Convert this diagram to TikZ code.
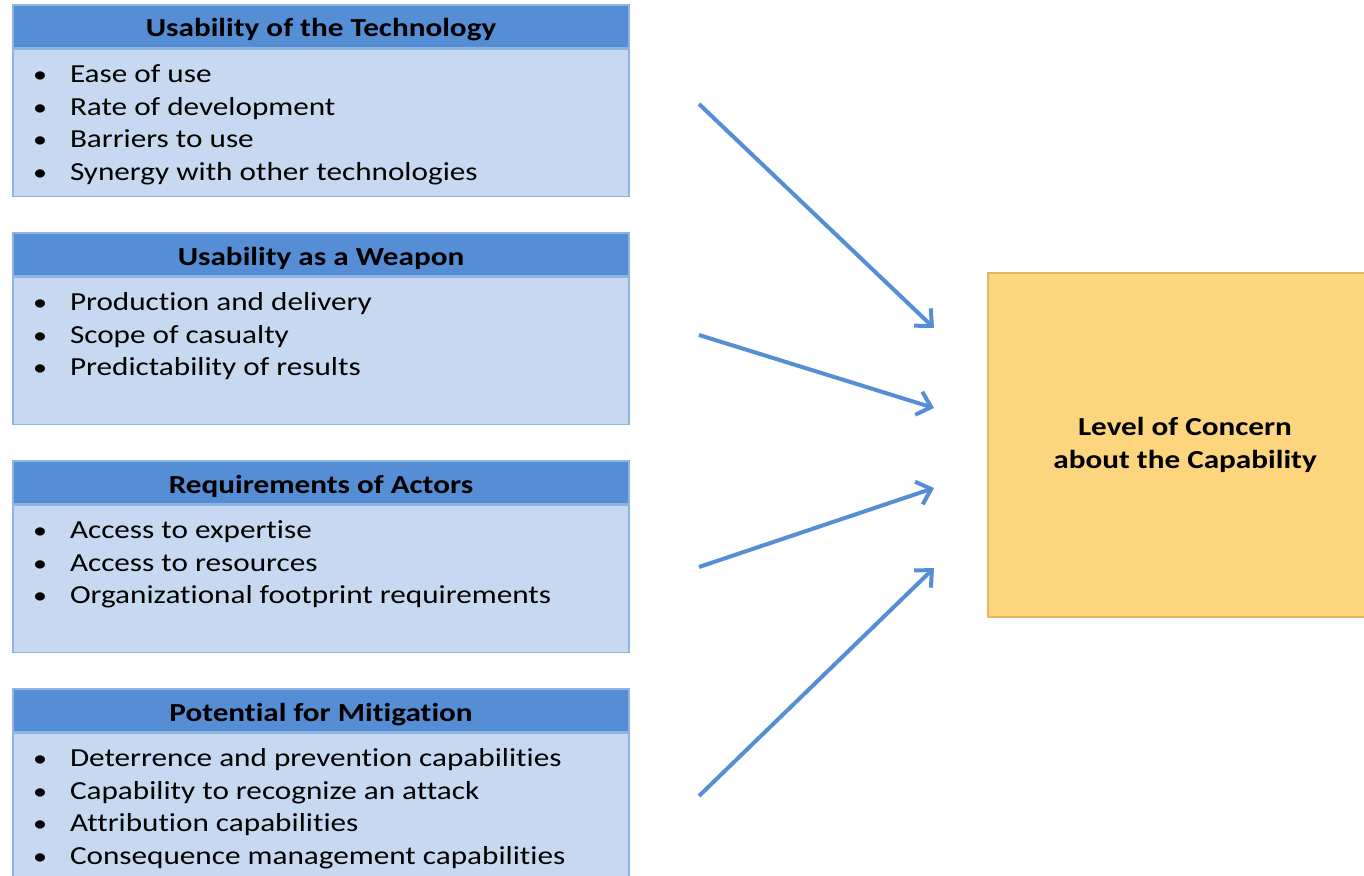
\documentclass[tikz,border=0pt]{standalone}
\usepackage{fontspec}
\setmainfont{Carlito}[FakeStretch=1.2,Ligatures=NoCommon]
\usetikzlibrary{arrows.meta,positioning}
\definecolor{hdrblue}{RGB}{85,142,213}
\definecolor{bodyblue}{RGB}{198,217,241}
\definecolor{edgeblue}{RGB}{142,180,227}
\definecolor{gold}{RGB}{252,213,126}
\definecolor{golddark}{RGB}{222,184,100}
\newcommand\itm[1]{\makebox[57pt][l]{\hspace*{20pt}\scalebox{0.9}{•}}#1\par}
\newcommand\bodytext[1]{\parbox[t][147pt][t]{616pt}{\fontsize{26}{32.7}\selectfont\rule{0pt}{33pt}\ignorespaces#1}}
\tikzset{
  hdr/.style={draw=edgeblue, line width=1.5pt, fill=hdrblue, minimum width=616pt, minimum height=43pt, inner sep=0pt, text height=21pt, text depth=0pt, font=\fontsize{26}{30}\selectfont\bfseries},
  bodybox/.style={draw=edgeblue, line width=1.5pt, fill=bodyblue, inner sep=0pt, anchor=north, below=0pt of #1},
  arr/.style={draw=hdrblue, line width=4pt, -{Straight Barb[length=13pt,width=24pt,line width=4pt]}},
}
\begin{document}
\begin{tikzpicture}[x=1pt,y=-1pt]
\useasboundingbox (0,0) rectangle (1364,875);
\fill[white] (0,0) rectangle (1364,875);
\node[hdr] (h1) at (321,26.5) {Usability of the Technology};
\node[bodybox=h1] (b1) {\bodytext{\itm{Ease of use}\itm{Rate of development}\itm{Barriers to use}\itm{Synergy with other technologies}}};
\node[hdr] (h2) at (321,254.5) {Usability as a Weapon};
\node[bodybox=h2] (b2) {\bodytext{\itm{Production and delivery}\itm{Scope of casualty}\itm{Predictability of results}}};
\node[hdr] (h3) at (321,482.5) {Requirements of Actors};
\node[bodybox=h3] (b3) {\bodytext{\itm{Access to expertise}\itm{Access to resources}\itm{Organizational footprint requirements}}};
\node[hdr] (h4) at (321,710.5) {Potential for Mitigation};
\node[bodybox=h4] (b4) {\bodytext{\itm{Deterrence and prevention capabilities}\itm{Capability to recognize an attack}\itm{Attribution capabilities}\itm{Consequence management capabilities}}};
\node[draw=golddark, line width=1.5pt, fill=gold, minimum width=394pt, minimum height=344pt, inner sep=0pt, align=center, font=\fontsize{26}{33}\selectfont\bfseries] (c) at (1185,445) {Level of Concern\\about the Capability};
\coordinate (s1) at (699,104);
\coordinate (s2) at (699,335);
\coordinate (s3) at (699,567);
\coordinate (s4) at (699,796);
\coordinate (e1) at (934,328);
\coordinate (e2) at (934,408);
\coordinate (e3) at (934,488);
\coordinate (e4) at (934,568);
\draw[arr] (s1) -- (e1);
\draw[arr] (s2) -- (e2);
\draw[arr] (s3) -- (e3);
\draw[arr] (s4) -- (e4);
\end{tikzpicture}
\end{document}
